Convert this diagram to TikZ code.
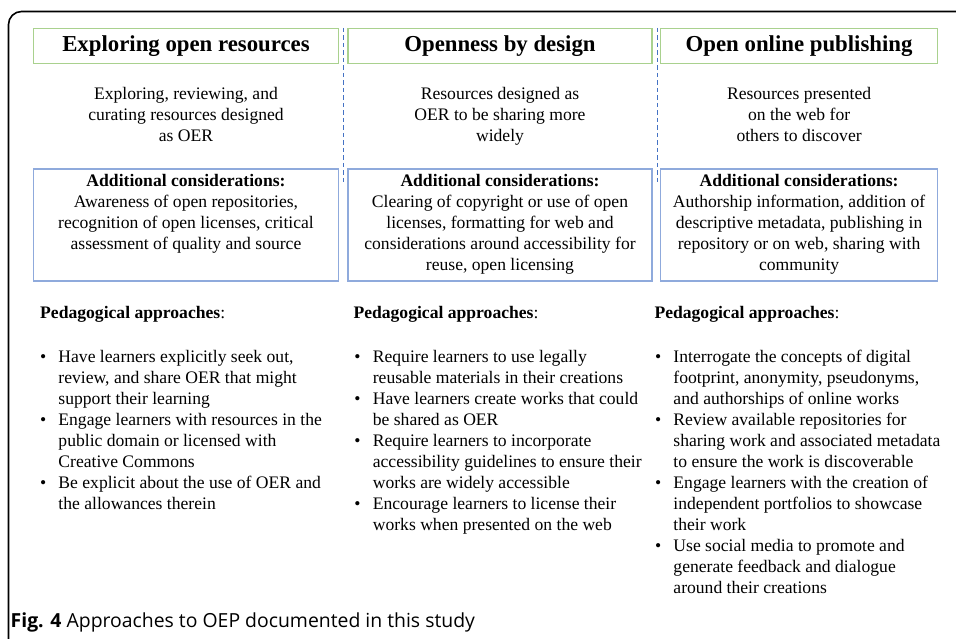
\documentclass[tikz,border=0pt]{standalone}
\usepackage{fontspec}
\setmainfont{Liberation Serif}
\newfontfamily\capfont{Open Sans}
\usepackage{xcolor}
\definecolor{headGreen}{RGB}{169,209,142}
\definecolor{addBlue}{RGB}{143,170,220}
\definecolor{sepBlue}{RGB}{68,114,196}
\newcommand\bodyfont{\fontsize{17.6}{21}\selectfont}
\newcommand\headfont{\fontsize{22.8}{26}\selectfont\bfseries}
\newcommand\bulletlist[1]{\begin{tabular}{@{}l@{\hspace{12.3pt}}l@{}}#1\end{tabular}}
\tikzset{
  headbox/.style={draw=headGreen,line width=1.2pt,minimum height=35pt,inner sep=0pt,font=\headfont},
  addbox/.style={draw=addBlue,line width=1.2pt,minimum height=112pt,inner sep=0pt},
  bodytext/.style={inner sep=0pt,font=\bodyfont},
  blocktext/.style={bodytext,align=center,anchor=north,execute at begin node={\rule{0pt}{14.7pt}}},
  listtext/.style={bodytext,anchor=north west},
  colsep/.style={sepBlue,line width=1.3pt,dash pattern=on 4.5pt off 3pt}
}

\begin{document}
\begin{tikzpicture}[x=1pt,y=-1pt]
\useasboundingbox (0,0) rectangle (956,639);
\draw[line width=1.6pt,rounded corners=13pt] (8.5,680) -- (8.5,11.5) -- (990,11.5);
\node[headbox,minimum width=304.5pt] (headL) at (186,45.8) {Exploring open resources};
\node[headbox,minimum width=304pt] (headM) at (500,45.8) {Openness by design};
\node[headbox,minimum width=277pt] (headR) at (799.1,45.8) {Open online publishing};
\coordinate (sepLtop) at (343.3,28);\coordinate (sepLbot) at (343.3,184);
\coordinate (sepRtop) at (657.7,28);\coordinate (sepRbot) at (657.7,184);
\draw[colsep] (sepLtop) -- (sepLbot);
\draw[colsep] (sepRtop) -- (sepRbot);
\node[blocktext] (descL) at (186,87) {Exploring, reviewing, and\\curating resources designed\\as OER};
\node[blocktext] (descM) at (500,87) {Resources designed as\\OER to be sharing more\\widely};
\node[blocktext] (descR) at (799.1,87) {Resources presented\\on the web for\\others to discover};
\node[addbox,minimum width=304.5pt] (addL) at (186,225) {};
\node[addbox,minimum width=304pt] (addM) at (500,225) {};
\node[addbox,minimum width=277pt] (addR) at (799.1,225) {};
\node[blocktext] (addtextL) at (186,174.5) {\textbf{Additional considerations:}\\Awareness of open repositories,\\recognition of open licenses, critical\\assessment of quality and source};
\node[blocktext] (addtextM) at (500,174.5) {\textbf{Additional considerations:}\\Clearing of copyright or use of open\\licenses, formatting for web and\\considerations around accessibility for\\reuse, open licensing};
\node[blocktext] (addtextR) at (799.1,174.5) {\textbf{Additional considerations:}\\Authorship information, addition of\\descriptive metadata, publishing in\\repository or on web, sharing with\\community};
\node[bodytext,anchor=base west] (pedL) at (40,318) {\textbf{Pedagogical approaches}:};
\node[bodytext,anchor=base west] (pedM) at (353.3,318) {\textbf{Pedagogical approaches}:};
\node[bodytext,anchor=base west] (pedR) at (654.3,318) {\textbf{Pedagogical approaches}:};
\node[listtext] (listL) at (39.8,347.3) {\bulletlist{
\textbullet & Have learners explicitly seek out,\\
 & review, and share OER that might\\
 & support their learning\\
\textbullet & Engage learners with resources in the\\
 & public domain or licensed with\\
 & Creative Commons\\
\textbullet & Be explicit about the use of OER and\\
 & the allowances therein}};
\node[listtext] (listM) at (354.2,347.3) {\bulletlist{
\textbullet & Require learners to use legally\\
 & reusable materials in their creations\\
\textbullet & Have learners create works that could\\
 & be shared as OER\\
\textbullet & Require learners to incorporate\\
 & accessibility guidelines to ensure their\\
 & works are widely accessible\\
\textbullet & Encourage learners to license their\\
 & works when presented on the web}};
\node[listtext] (listR) at (654.8,347.3) {\bulletlist{
\textbullet & Interrogate the concepts of digital\\
 & footprint, anonymity, pseudonyms,\\
 & and authorships of online works\\
\textbullet & Review available repositories for\\
 & sharing work and associated metadata\\
 & to ensure the work is discoverable\\
\textbullet & Engage learners with the creation of\\
 & independent portfolios to showcase\\
 & their work\\
\textbullet & Use social media to promote and\\
 & generate feedback and dialogue\\
 & around their creations}};
\node[inner sep=0pt,anchor=base west,font=\capfont\fontsize{19.4}{22}\selectfont] (caption) at (10.5,627) {\textbf{Fig. 4} Approaches to OEP documented in this study};
\end{tikzpicture}
\end{document}
